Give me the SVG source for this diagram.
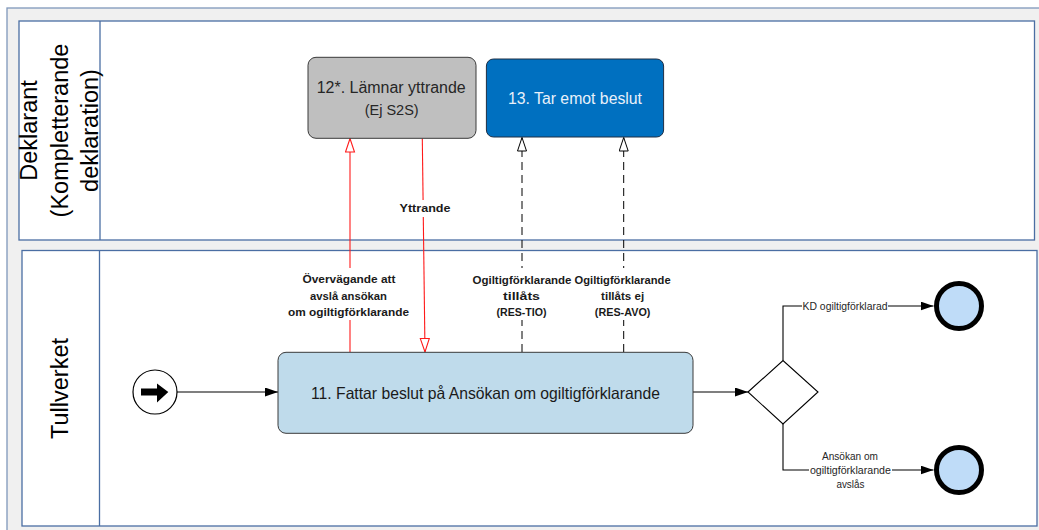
<svg xmlns="http://www.w3.org/2000/svg" width="1039" height="530" viewBox="0 0 1039 530">
<defs>
<style>
.lane{fill:#ffffff;stroke:#4a6ea3;stroke-width:1.3}
.hdr{font-family:"Liberation Sans",Arial,sans-serif;font-size:23.5px;fill:#000}
.nt{font-family:"Liberation Sans",Arial,sans-serif;text-anchor:middle}
.lbl{font-family:"Liberation Sans",Arial,sans-serif;font-size:11px;font-weight:bold;text-anchor:middle;fill:#1a1a1a}
.sl{font-family:"Liberation Sans",Arial,sans-serif;font-size:10.5px;text-anchor:middle;fill:#262626}
.red{stroke:#ff1a1a;stroke-width:1.1;fill:none}
.dash{stroke:#000;stroke-width:1;fill:none;stroke-dasharray:8 5}
.seq{stroke:#000;stroke-width:1.1;fill:none}
.bg{fill:#ffffff}
</style>
<marker id="hollowRed" markerUnits="userSpaceOnUse" markerWidth="16" markerHeight="12" refX="14" refY="5" orient="auto">
<path d="M0.5,0.5 L14,5 L0.5,9.5 z" fill="#ffffff" stroke="#ff1a1a" stroke-width="1.1"/>
</marker>
<marker id="hollowBlack" markerUnits="userSpaceOnUse" markerWidth="16" markerHeight="12" refX="14" refY="5" orient="auto">
<path d="M0.5,0.5 L14,5 L0.5,9.5 z" fill="#ffffff" stroke="#000" stroke-width="1"/>
</marker>
<marker id="filled" markerUnits="userSpaceOnUse" markerWidth="16" markerHeight="12" refX="13" refY="4.5" orient="auto">
<path d="M0,0 L13,4.5 L0,9 z" fill="#000"/>
</marker>
</defs>

<rect x="0" y="0" width="1039" height="530" fill="#ffffff"/>
<rect x="7" y="8" width="1040" height="530" fill="#f0f0f0" stroke="#7f97bb" stroke-width="1.3"/>

<g id="lane-deklarant">
<rect class="lane" x="19" y="21" width="1015.5" height="219"/>
<line x1="100" y1="21" x2="100" y2="240" stroke="#4a6ea3" stroke-width="1.3"/>
<g class="hdr" text-anchor="middle">
<text transform="translate(37,130.5) rotate(-90)">Deklarant</text>
<text transform="translate(67.5,130.5) rotate(-90)">(Kompletterande</text>
<text transform="translate(98,130.5) rotate(-90)">deklaration)</text>
</g>
</g>

<g id="lane-tullverket">
<rect class="lane" x="22" y="250.5" width="1015" height="275.5"/>
<line x1="99.5" y1="250.5" x2="99.5" y2="526" stroke="#4a6ea3" stroke-width="1.3"/>
<text class="hdr" text-anchor="middle" transform="translate(68,388.5) rotate(-90)">Tullverket</text>
</g>

<g id="connectors">
<line class="seq" x1="177" y1="392" x2="278" y2="392" marker-end="url(#filled)"/>
<line class="seq" x1="693" y1="392" x2="748" y2="392" marker-end="url(#filled)"/>
<polyline class="seq" points="783,360.5 783,306 933.5,306" marker-end="url(#filled)"/>
<polyline class="seq" points="783,424 783,470 933.5,470" marker-end="url(#filled)"/>
<line class="red" x1="350" y1="352" x2="350" y2="138.5" marker-end="url(#hollowRed)"/>
<line class="red" x1="422.3" y1="138.5" x2="425" y2="352" marker-end="url(#hollowRed)"/>
<line class="dash" x1="522" y1="352" x2="522" y2="137.5" marker-end="url(#hollowBlack)"/>
<line class="dash" x1="623.7" y1="352" x2="623.7" y2="137.5" marker-end="url(#hollowBlack)"/>

<rect class="bg" x="396" y="200" width="58" height="17"/>
<text class="lbl" x="425" y="212" textLength="51" lengthAdjust="spacingAndGlyphs">Yttrande</text>

<rect class="bg" x="286" y="268" width="126" height="52"/>
<text class="lbl" x="349" y="283" textLength="93" lengthAdjust="spacingAndGlyphs">Övervägande att</text>
<text class="lbl" x="348.5" y="299.5" textLength="77" lengthAdjust="spacingAndGlyphs">avslå ansökan</text>
<text class="lbl" x="348.5" y="315.5" textLength="121" lengthAdjust="spacingAndGlyphs">om ogiltigförklarande</text>

<rect class="bg" x="470" y="268" width="104" height="52"/>
<text class="lbl" x="522" y="284" textLength="99" lengthAdjust="spacingAndGlyphs">Ogiltigförklarande</text>
<text class="lbl" x="521.5" y="299.5" textLength="37" lengthAdjust="spacingAndGlyphs">tillåts</text>
<text class="lbl" x="521.5" y="315.5" textLength="50" lengthAdjust="spacingAndGlyphs">(RES-TIO)</text>

<rect class="bg" x="575" y="268" width="98" height="52"/>
<text class="lbl" x="622.6" y="284" textLength="96" lengthAdjust="spacingAndGlyphs">Ogiltigförklarande</text>
<text class="lbl" x="622.6" y="299.5" textLength="43" lengthAdjust="spacingAndGlyphs">tillåts ej</text>
<text class="lbl" x="622.6" y="315.5" textLength="55.6" lengthAdjust="spacingAndGlyphs">(RES-AVO)</text>

<rect class="bg" x="802" y="299" width="86" height="14"/>
<text class="sl" x="845" y="309.5" textLength="85" lengthAdjust="spacingAndGlyphs">KD ogiltigförklarad</text>

<rect class="bg" x="809" y="463" width="83" height="14"/>
<text class="sl" x="850" y="460" textLength="56" lengthAdjust="spacingAndGlyphs">Ansökan om</text>
<text class="sl" x="850.4" y="474" textLength="81" lengthAdjust="spacingAndGlyphs">ogiltigförklarande</text>
<text class="sl" x="850.4" y="488" textLength="28" lengthAdjust="spacingAndGlyphs">avslås</text>
</g>

<g id="start-event">
<circle cx="155" cy="392" r="22" fill="#ffffff" stroke="#000" stroke-width="1.2"/>
<polygon points="141,388.5 157,388.5 157,383.5 168.3,392 157,402.5 157,395.5 141,395.5" fill="#000"/>
</g>

<g id="task-11">
<rect x="278" y="352.3" width="415" height="81" rx="8" fill="#bfdbeb" stroke="#3a3a3a" stroke-width="1"/>
<text class="nt" x="485.5" y="398.5" font-size="16.5" fill="#1a1a1a" textLength="349" lengthAdjust="spacingAndGlyphs">11. Fattar beslut på Ansökan om ogiltigförklarande</text>
</g>

<g id="task-12">
<rect x="308" y="57.3" width="168" height="81" rx="8" fill="#bfbfbf" stroke="#3a3a3a" stroke-width="1"/>
<text class="nt" x="391.2" y="93" font-size="16" fill="#262626" textLength="149" lengthAdjust="spacingAndGlyphs">12*. Lämnar yttrande</text>
<text class="nt" x="391.7" y="114.5" font-size="15.5" fill="#262626" textLength="54" lengthAdjust="spacingAndGlyphs">(Ej S2S)</text>
</g>

<g id="task-13">
<rect x="486.4" y="59" width="177.2" height="78" rx="7" fill="#0070c0" stroke="#1f2f45" stroke-width="1"/>
<text class="nt" x="575" y="103.5" font-size="16" fill="#e8f0fa" textLength="134" lengthAdjust="spacingAndGlyphs">13. Tar emot beslut</text>
</g>

<g id="gateway">
<polygon points="748,392 783,360.5 818,392 783,424" fill="#ffffff" stroke="#000" stroke-width="1.1"/>
</g>

<g id="end-event-1">
<circle cx="959" cy="306" r="22.5" fill="#bfdcf8" stroke="#000" stroke-width="5"/>
</g>
<g id="end-event-2">
<circle cx="959" cy="470" r="22.5" fill="#bfdcf8" stroke="#000" stroke-width="5"/>
</g>
</svg>
